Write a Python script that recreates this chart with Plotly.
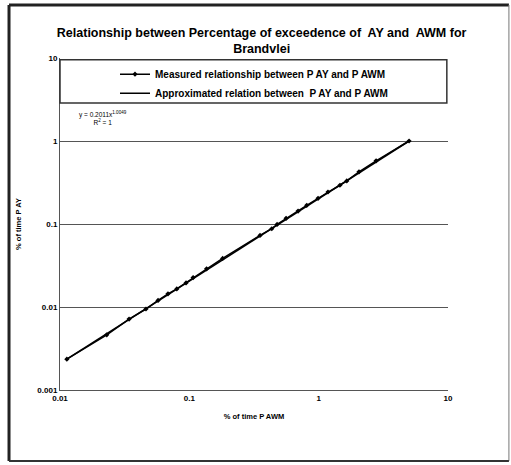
import plotly.graph_objects as go

# Measured relationship
p_awm = [0.0113, 0.0230, 0.0342, 0.0462, 0.0573, 0.0684, 0.0800, 0.0943, 0.107, 0.136,
         0.181, 0.352, 0.434, 0.477, 0.560, 0.693, 0.809, 0.989, 1.18, 1.46, 1.65, 2.05,
         2.78, 5.0]
p_ay = [0.00235, 0.00462, 0.00716, 0.00946, 0.0120, 0.0144, 0.0165, 0.0195, 0.0226, 0.0288,
        0.0385, 0.0728, 0.0877, 0.0989, 0.117, 0.143, 0.168, 0.204, 0.243, 0.293, 0.330, 0.425,
        0.577, 1.0]

# Approximated (trend) line end points
trend_x = [0.0113, 5.0]
trend_y = [0.00235, 1.0]

title_text = "<b>Relationship between Percentage of exceedence of  AY and  AWM for<br>Brandvlei</b>"
eq_text = "y = 0.2011x<sup>1.0049</sup><br>R<sup>2</sup> = 1"

x_ticks = [0.01, 0.1, 1, 10]
x_labels = ["0.01", "0.1", "1", "10"]
y_ticks = [0.001, 0.01, 0.1, 1, 10]
y_labels = ["0.001", "0.01", "0.1", "1", "10"]

FONT = "Liberation Sans, Arial, sans-serif"

fig = go.Figure()
fig.add_trace(go.Scatter(
    x=p_awm, y=p_ay, mode="lines+markers",
    name="<b>Measured relationship between P AY and P AWM</b>",
    line=dict(color="black", width=1.5),
    marker=dict(symbol="diamond", size=4, color="black"),
))
fig.add_trace(go.Scatter(
    x=trend_x, y=trend_y, mode="lines",
    name="<b>Approximated relation between  P AY and P AWM</b>",
    line=dict(color="black", width=1.5),
))

fig.update_layout(
    width=511, height=465,
    margin=dict(l=60, r=63, t=58, b=75),
    paper_bgcolor="white", plot_bgcolor="white",
    font=dict(family=FONT, color="black"),
    title=dict(text=title_text, x=0.512, xanchor="center", y=0.921, yanchor="top",
               font=dict(size=12.5, family=FONT, color="black")),
    showlegend=True,
    legend=dict(x=0.5, xanchor="center", y=0.995, yanchor="top",
                bgcolor="rgba(0,0,0,0)", borderwidth=0,
                font=dict(size=10, family=FONT, color="black"),
                itemwidth=30, tracegroupgap=0),
    xaxis=dict(type="log", range=[-2, 1], tickvals=x_ticks,
               ticktext=["<b>%s</b>" % t for t in x_labels],
               tickfont=dict(size=8), showgrid=False, showline=True,
               linecolor="#555", linewidth=1, ticks="", zeroline=False,
               title=dict(text="<b>% of time P AWM</b>", font=dict(size=7.5), standoff=12)),
    yaxis=dict(type="log", range=[-3, 1], tickvals=y_ticks,
               ticktext=["<b>%s</b>" % t for t in y_labels],
               tickfont=dict(size=8), showgrid=True, gridcolor="#555", gridwidth=1,
               showline=True, linecolor="#555", linewidth=1, ticks="", zeroline=False,
               title=dict(text="<b>% of time P AY</b>", font=dict(size=7.5), standoff=14)),
)

# legend box
fig.add_shape(type="rect", xref="paper", yref="paper", x0=0, x1=0.997, y0=0.8645, y1=0.995,
              line=dict(color="#333", width=1.5), fillcolor="white", layer="above")

# outer frame
fig.add_shape(type="line", xref="paper", yref="paper", x0=-0.1314, x1=-0.1314, y0=-0.2139, y1=1.1596,
              line=dict(color="#222", width=3))
fig.add_shape(type="line", xref="paper", yref="paper", x0=-0.1314, x1=1.157, y0=1.1596, y1=1.1596,
              line=dict(color="#222", width=3))
fig.add_shape(type="line", xref="paper", yref="paper", x0=1.157, x1=1.157, y0=-0.2139, y1=1.1596,
              line=dict(color="#777", width=1))
fig.add_shape(type="line", xref="paper", yref="paper", x0=-0.1314, x1=1.157, y0=-0.2139, y1=-0.2139,
              line=dict(color="#333", width=2))

fig.add_annotation(text=eq_text, xref="paper", yref="paper", x=0.11, y=0.85,
                   xanchor="center", yanchor="top", showarrow=False, align="center",
                   font=dict(size=6.5, family=FONT, color="black"))

fig.write_html("out.html")
